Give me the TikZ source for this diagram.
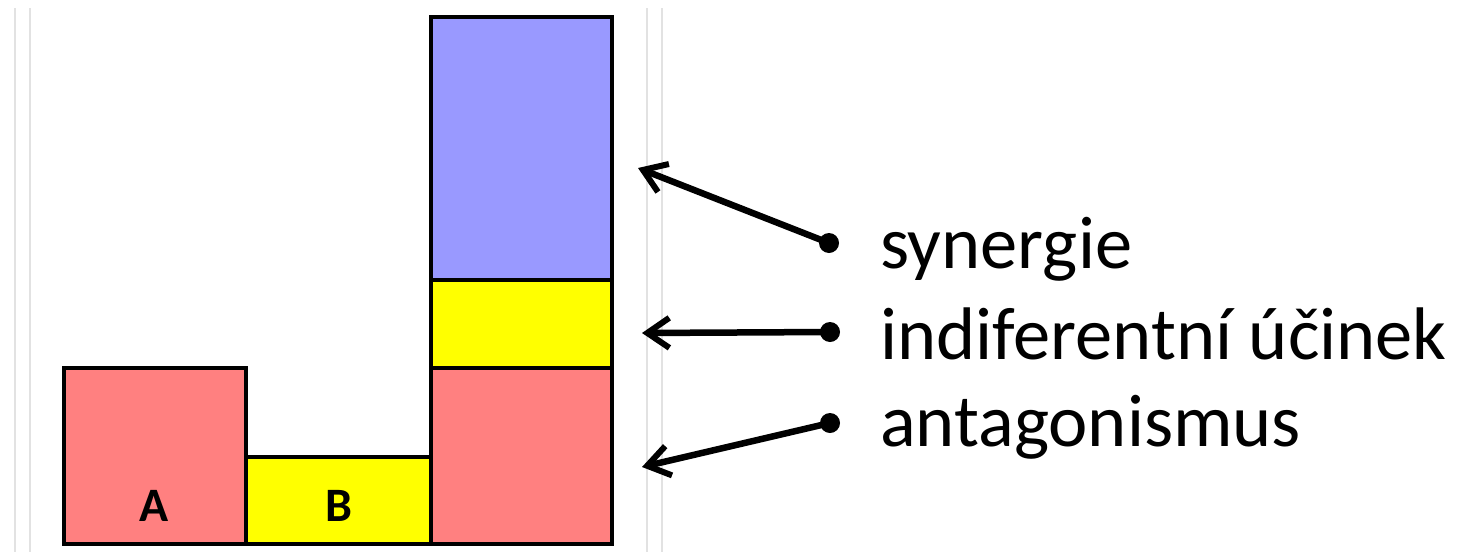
\documentclass[tikz,border=0pt]{standalone}
\usepackage{fontspec}
\setmainfont{Carlito}
\usetikzlibrary{arrows.meta}
\definecolor{barred}{HTML}{FF8080}
\definecolor{baryellow}{HTML}{FFFF00}
\definecolor{barblue}{HTML}{9999FF}
\definecolor{guide}{HTML}{E2E2E2}
\begin{document}
\begin{tikzpicture}[x=1pt,y=-1pt,
  bar/.style={draw=black,line width=3.5pt,anchor=north west,inner sep=0pt,outer sep=0pt},
  barlabel/.style={inner sep=0pt,anchor=base,font=\fontsize{48}{56}\selectfont\bfseries},
  legend/.style={inner sep=0pt,anchor=base west,font=\fontsize{74.5}{88}\selectfont},
  dot/.style={circle,fill=black,inner sep=0pt,minimum size=20pt},
  pointer/.style={line width=6.5pt,-{Straight Barb[length=22pt,width=30pt,line width=6pt]}},
  guideline/.style={draw=guide,line width=1.5pt}]
\useasboundingbox (0,0) rectangle (1462,552);
% faint guide lines
\draw[guideline] (15,8) -- (15,552);
\draw[guideline] (30,8) -- (30,552);
\draw[guideline] (647,8) -- (647,552);
\draw[guideline] (662,8) -- (662,552);
% bars
\node[bar,fill=barred,minimum width=182pt,minimum height=176pt] (A) at (64,368) {};
\node[bar,fill=baryellow,minimum width=185pt,minimum height=87pt] (B) at (246,457) {};
\node[bar,fill=barred,minimum width=181pt,minimum height=176pt] (C1) at (431,368) {};
\node[bar,fill=baryellow,minimum width=181pt,minimum height=88pt] (C2) at (431,280) {};
\node[bar,fill=barblue,minimum width=181pt,minimum height=263pt] (C3) at (431,17) {};
\node[barlabel] (la) at (154,521) {A};
\node[barlabel] (lb) at (339,521) {B};
% legend
\node[legend] (syn) at (880,268) {synergie};
\node[legend] (ind) at (880,359) {indiferentní účinek};
\node[legend] (ant) at (880,446) {antagonismus};
\node[dot] (d1) at (829,243) {};
\node[dot] (d2) at (830,332) {};
\node[dot] (d3) at (830,423) {};
\coordinate (t1) at (638,168);
\coordinate (t2) at (642,333);
\coordinate (t3) at (642,467);
\draw[pointer] (d1.center) -- (t1);
\draw[pointer] (d2.center) -- (t2);
\draw[pointer] (d3.center) -- (t3);
\end{tikzpicture}
\end{document}
